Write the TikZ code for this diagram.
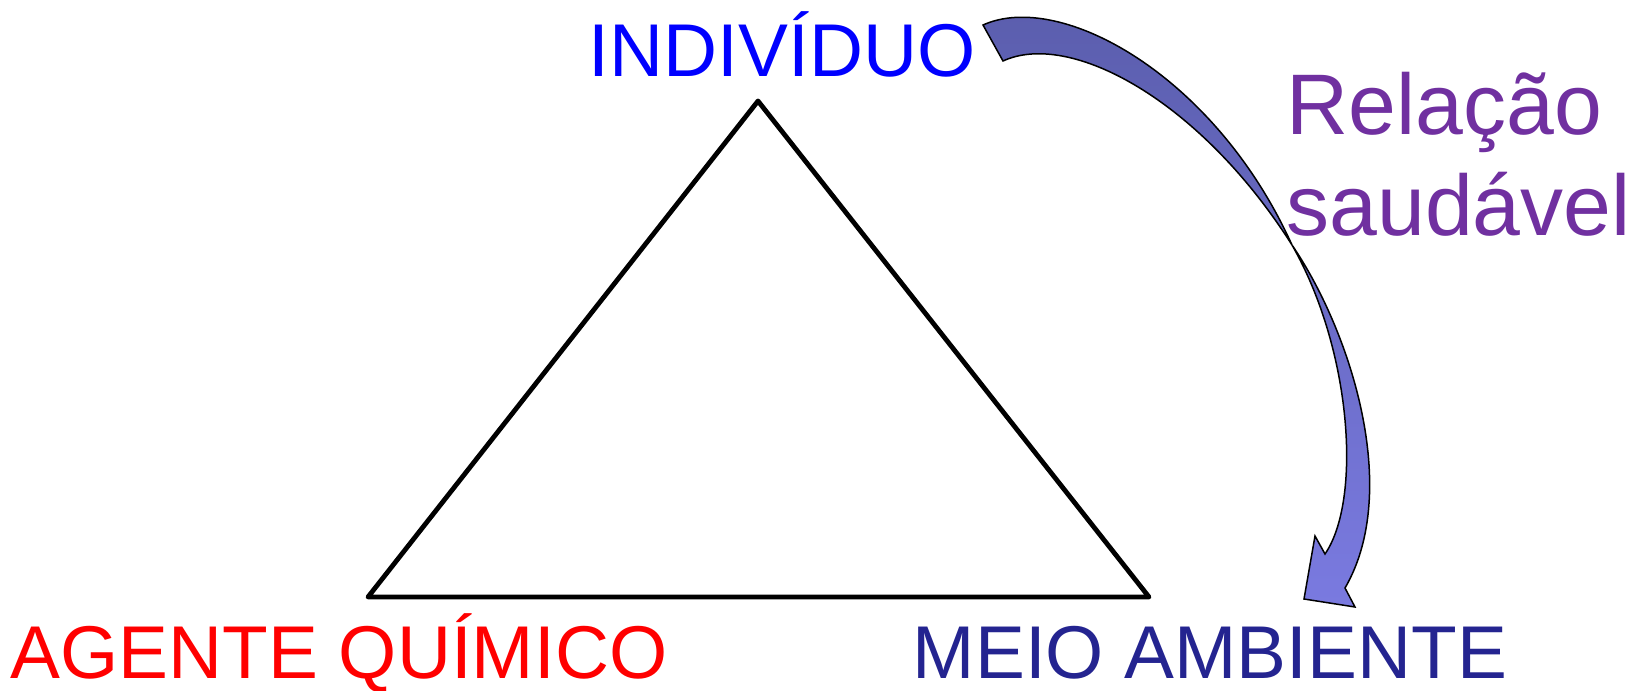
\documentclass[tikz,border=0pt]{standalone}
\usepackage{fontspec}
\setmainfont{Liberation Sans}
\definecolor{indblue}{HTML}{0000FF}
\definecolor{agred}{HTML}{FF0000}
\definecolor{meionavy}{HTML}{242490}
\definecolor{relpurple}{HTML}{7030A0}
\definecolor{arrtop}{HTML}{5A5DAC}
\definecolor{arrbot}{HTML}{7A7AE0}
\tikzset{
  bigtext/.style={inner sep=0pt, anchor=base, font=\fontsize{37.4}{45}\selectfont},
  reltext/.style={inner sep=0pt, anchor=base west, font=\fontsize{43}{50.5}\selectfont, text=relpurple},
  triline/.style={line width=2.4pt, line join=round, draw=black},
  curvearrow/.style={top color=arrtop, bottom color=arrbot, draw=black, line width=0.75pt, line join=miter}
}
\begin{document}
\begin{tikzpicture}[x=0.5pt, y=-0.5pt]
\useasboundingbox (0,0) rectangle (1635,691);
% triangle vertices
\coordinate (top) at (758,101);
\coordinate (bl) at (368,597);
\coordinate (br) at (1149,597);
\draw[triline] (top) -- (br) -- (bl) -- cycle;
% labels
\node[bigtext, text=indblue] (ind) at (782,76) {INDIVÍDUO};
\node[bigtext, text=agred] (agente) at (339,678) {AGENTE QUÍMICO};
\node[bigtext, text=meionavy] (meio) at (1210,678) {MEIO AMBIENTE};
\node[reltext] (rel1) at (1286,134) {Relação};
\node[reltext] (rel2) at (1286,235) {saudável};
% curved arrow
\coordinate (t1) at (983,25);
\coordinate (t2) at (1003,61);
\coordinate (cx) at (1292,245);
\coordinate (n1) at (1345,588);
\coordinate (h1) at (1355,607);
\coordinate (h2) at (1304,599);
\coordinate (h3) at (1315,536);
\coordinate (n2) at (1325,554);
\shadedraw[curvearrow]
  (t1) .. controls (1060,-10) and (1215,75) .. (cx)
  .. controls (1350,330) and (1402,490) .. (n1)
  -- (h1) -- (h2) -- (h3) -- (n2)
  .. controls (1362,500) and (1352,350) .. (cx)
  .. controls (1200,100) and (1070,30) .. (t2)
  -- cycle;
\end{tikzpicture}
\end{document}
